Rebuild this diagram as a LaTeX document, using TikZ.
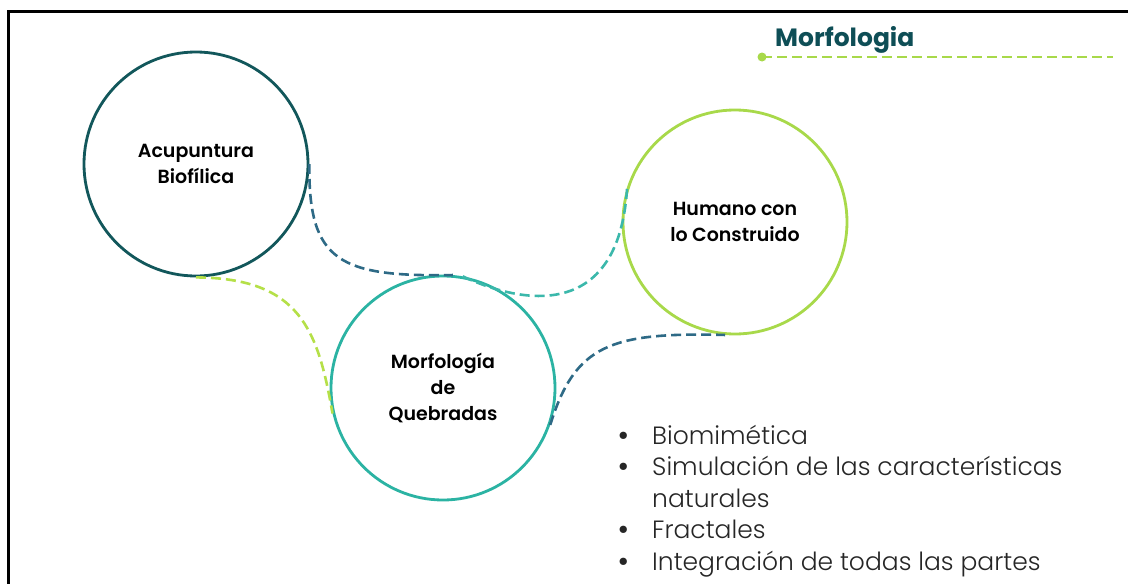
\documentclass[tikz,border=0pt]{standalone}
\usepackage{fontspec}
\IfFontExistsTF{Poppins}{\setmainfont{Poppins}}{\setmainfont{Lato}}
\IfFontExistsTF{Poppins SemiBold}{\newfontfamily\boldf{Poppins SemiBold}}{\newfontfamily\boldf{Poppins}[UprightFont=*,BoldFont=*,FakeBold=0]}
\IfFontExistsTF{Poppins Light}{\newfontfamily\lightf{Poppins Light}}{\newfontfamily\lightf{Poppins}}
\definecolor{cdark}{HTML}{12575B}
\definecolor{cteal}{HTML}{2BB3A3}
\definecolor{cgreen}{HTML}{A8D94A}
\definecolor{cslate}{HTML}{2E6A86}
\definecolor{cdteal}{HTML}{3BB8AB}
\definecolor{cdgreen}{HTML}{B5E048}
\definecolor{chead}{HTML}{0E4E56}
\definecolor{ctext}{HTML}{262626}
\newcommand{\bul}{{\boldf\fontsize{26}{31.6}\selectfont\textbullet}}
\begin{document}
\begin{tikzpicture}[x=1pt,y=-1pt,
  bubble/.style={circle,minimum size=224pt,inner sep=0pt,line width=2.8pt,align=center,
    font=\boldf\fontsize{19}{26}\selectfont,text=black},
  conn/.style={line width=2.6pt,dash pattern=on 10pt off 5pt}]
\useasboundingbox (0,0) rectangle (1128,584);
\fill[white] (0,0) rectangle (1128,584);
% frame
\draw[line width=2.8pt,black] (8.7,584) -- (8.7,11.5) -- (1128,11.5);
% header
\node[anchor=base west,text=chead,font=\bfseries\fontsize{25}{30}\selectfont,inner sep=0pt] (head) at (775,46) {Morfologia};
\node[circle,fill=cgreen,minimum size=9pt,inner sep=0pt] (hdot) at (762,57) {};
\coordinate (hend) at (1113,57);
\draw[cgreen,line width=2.6pt,dash pattern=on 10pt off 5pt] (hdot.center) -- (hend);
% circles
\node[bubble,draw=cdark] (c1) at (196,164) {Acupuntura\\Biofílica};
\node[bubble,draw=cteal] (c2) at (443,388) {Morfología\\de\\Quebradas};
\node[bubble,draw=cgreen] (c3) at (735,222) {Humano con\\lo Construido};
% connectors
\draw[conn,cslate] (c1.east) .. controls (308,262) and (340,277) .. (c2.85);
\draw[conn,cdteal] (c2.80) .. controls (535,310) and (620,312) .. (c3.162);
\draw[conn,cdgreen] (c1.south) .. controls (300,278) and (318,330) .. (c2.193);
\draw[conn,cslate] (c2.341) .. controls (575,345) and (610,332) .. (c3.265);
% bullets
\node[anchor=base west,inner sep=0pt,text=ctext,font=\lightf\fontsize{25}{31.6}\selectfont] (list) at (617,444)
{\begin{tabular}[t]{@{}p{35pt}@{}l@{}}
\bul & Biomimética\\
\bul & Simulación de las características\\
 & naturales\\
\bul & Fractales\\
\bul & Integración de todas las partes
\end{tabular}};
\end{tikzpicture}
\end{document}
